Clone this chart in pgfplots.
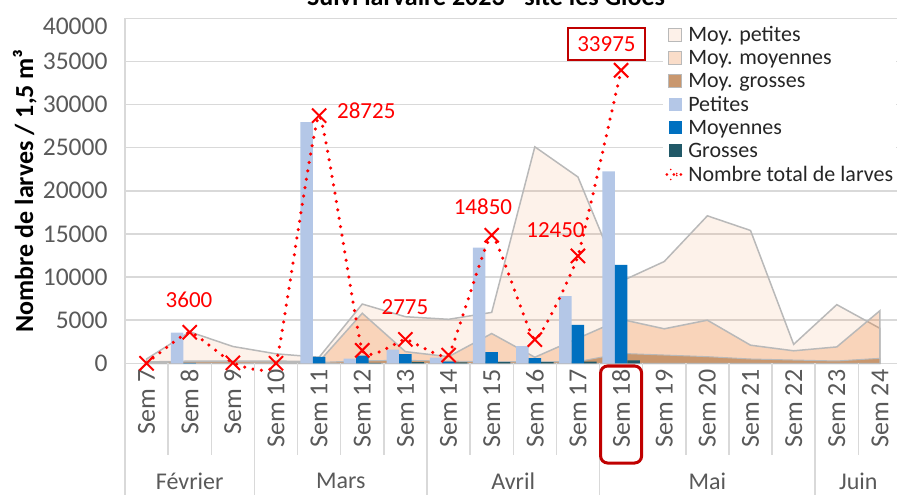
\documentclass[border=0pt]{standalone}
\usepackage{fontspec}
\setmainfont{Carlito}
\usepackage{pgfplots}
\pgfplotsset{compat=1.18}

\definecolor{petbar}{RGB}{180,199,231}
\definecolor{moybar}{RGB}{0,112,192}
\definecolor{grobar}{RGB}{33,89,104}
\definecolor{orangeA}{RGB}{237,125,49}
\definecolor{groarea}{RGB}{201,151,110}
\definecolor{areaedge}{RGB}{185,185,185}
\definecolor{gridgray}{RGB}{217,217,217}
\definecolor{ticktext}{RGB}{89,89,89}
\definecolor{boxred}{RGB}{192,0,0}

\newcommand{\xtf}{\fontsize{26bp}{30bp}\selectfont}
\newcommand{\ytf}{\fontsize{25.5bp}{30bp}\selectfont}
\newcommand{\mof}{\fontsize{24bp}{28bp}\selectfont}
\newcommand{\lgf}{\fontsize{22bp}{26bp}\selectfont}
\newcommand{\lbf}{\fontsize{23bp}{27bp}\selectfont}
\newcommand{\ylf}{\fontsize{26bp}{30bp}\selectfont\bfseries}
\newcommand{\ttf}{\fontsize{26bp}{30bp}\selectfont\bfseries}

\begin{document}
\begin{tikzpicture}
\begin{axis}[
  at={(125bp,131.7bp)}, anchor=south west,
  width=776.5bp, height=345bp, scale only axis,
  xmin=-0.5, xmax=17.5, ymin=0, ymax=40000,
  clip=false,
  axis x line*=bottom, axis y line*=left,
  axis line style={gridgray, line width=1.5bp},
  major tick length=0pt,
  xtick={0,...,17},
  xticklabels={Sem 7,Sem 8,Sem 9,Sem 10,Sem 11,Sem 12,Sem 13,Sem 14,Sem 15,Sem 16,Sem 17,Sem 18,Sem 19,Sem 20,Sem 21,Sem 22,Sem 23,Sem 24},
  xticklabel style={rotate=90, anchor=east, font=\xtf, text=ticktext},
  xticklabel shift=3bp,
  ytick={0,5000,...,35000},
  extra y ticks={40000},
  extra y tick style={grid=major, tick label style={yshift=-8bp}},
  yticklabel style={font=\ytf, text=ticktext, xshift=-14bp},
  ymajorgrids,
  grid style={gridgray, line width=1.5bp},
  scaled y ticks=false,
  /pgf/number format/1000 sep={},
  /pgf/number format/assume math mode=true,
  ylabel={Nombre de larves / 1,5 m³},
  ylabel style={at={(axis description cs:-0.129,0.5)}, anchor=center, font=\ylf, text=black},
  legend style={at={(axis description cs:0.693,0.986)}, anchor=north west,
    draw=none, fill=white, inner sep=2bp, font=\lgf, text=black!85,
    row sep=5.3bp, nodes={inner sep=1bp},
    /tikz/every even column/.append style={column sep=8bp}},
  legend cell align=left,
]

% moyennes (aires)
\addplot[fill=orangeA, fill opacity=0.1, draw=areaedge, draw opacity=1, line width=1.5bp,
  legend image code/.code={\filldraw[fill=orangeA, fill opacity=0.1, draw=areaedge, line width=1bp] (0bp,-6.5bp) rectangle (13bp,6.5bp);}]
  coordinates {(0,500)(1,3650)(2,1950)(3,1100)(4,700)(5,6870)(6,5400)(7,5100)(8,5900)
    (9,25100)(10,21600)(11,9500)(12,11800)(13,17100)(14,15400)(15,2200)(16,6800)(17,4050)} \closedcycle;
\addlegendentry{Moy. petites}
\addplot[fill=orangeA, fill opacity=0.26, draw=areaedge, draw opacity=1, line width=1.5bp,
  legend image code/.code={\filldraw[fill=orangeA, fill opacity=0.26, draw=areaedge, line width=1bp] (0bp,-6.5bp) rectangle (13bp,6.5bp);}]
  coordinates {(0,150)(1,250)(2,250)(3,250)(4,200)(5,5800)(6,1350)(7,770)(8,3450)
    (9,700)(10,2900)(11,5100)(12,4000)(13,5000)(14,2100)(15,1450)(16,1900)(17,6100)} \closedcycle;
\addlegendentry{Moy. moyennes}
\addplot[fill=groarea, draw=areaedge, line width=1bp,
  legend image code/.code={\filldraw[fill=groarea, draw=areaedge, line width=1bp] (0bp,-6.5bp) rectangle (13bp,6.5bp);}]
  coordinates {(0,100)(1,200)(2,200)(3,150)(4,100)(5,300)(6,350)(7,250)(8,200)
    (9,200)(10,200)(11,1150)(12,960)(13,770)(14,500)(15,380)(16,270)(17,580)} \closedcycle;
\addlegendentry{Moy. grosses}

% comptages (barres)
\addplot[ybar, bar width=0.29, bar shift=-0.29, fill=petbar, draw=none,
  legend image code/.code={\fill[petbar] (0bp,-6.5bp) rectangle (13bp,6.5bp);}]
  coordinates {(1,3550)(4,27975)(5,550)(6,1600)(7,650)(8,13400)(9,2000)(10,7800)(11,22250)};
\addlegendentry{Petites}
\addplot[ybar, bar width=0.29, bar shift=0, fill=moybar, draw=none,
  legend image code/.code={\fill[moybar] (0bp,-6.5bp) rectangle (13bp,6.5bp);}]
  coordinates {(1,50)(4,750)(5,900)(6,1050)(7,200)(8,1300)(9,600)(10,4450)(11,11400)};
\addlegendentry{Moyennes}
\addplot[ybar, bar width=0.29, bar shift=0.29, fill=grobar, draw=none,
  legend image code/.code={\fill[grobar] (0bp,-6.5bp) rectangle (13bp,6.5bp);}]
  coordinates {(5,50)(6,125)(7,100)(8,150)(9,150)(10,200)(11,325)};
\addlegendentry{Grosses}

% total
\addplot[red, line width=3.5bp, line cap=round, dash pattern=on 0bp off 8.5bp,
  smooth, tension=0.22, mark=x, mark size=10bp,
  mark options={solid, line width=2bp, line cap=butt},
  legend image code/.code={
    \draw[red, line width=3bp, line cap=round, dash pattern=on 0bp off 7bp] (-2bp,0) -- (17bp,0);
    \draw[red, line width=1.8bp] (2bp,-5bp) -- (12bp,5bp) (2bp,5bp) -- (12bp,-5bp);}]
  coordinates {(0,0)(1,3600)(2,50)(3,0)(4,28725)(5,1500)(6,2775)(7,950)(8,14850)
    (9,2750)(10,12450)(11,33975)};
\addlegendentry{Nombre total de larves}

% étiquettes
\node[font=\lbf, text=red] at (axis cs:0.984,7340) {3600};
\node[font=\lbf, text=red] at (axis cs:5.093,29275) {28725};
\node[font=\lbf, text=red] at (axis cs:5.99,6560) {2775};
\node[font=\lbf, text=red] at (axis cs:7.798,18180) {14850};
\node[font=\lbf, text=red] at (axis cs:9.479,15455) {12450};
\node[font=\lbf, text=red, draw=boxred, line width=1.5bp, fill=white,
  minimum width=77bp, minimum height=32bp, inner sep=0pt] at (axis cs:10.66,37020) {33975};

% séparateurs et mois
\pgfplotsinvokeforeach{1,2,4,5,6,8,9,10,12,13,14,15,17}{
  \draw[gridgray, line width=1.5bp] (axis cs:#1-0.5,0) -- ++(0pt,-92bp);}
\pgfplotsinvokeforeach{0,3,7,11,16}{
  \draw[gridgray, line width=1.5bp] (axis cs:#1-0.5,0) -- ++(0pt,-140bp);}
\node[font=\mof, text=ticktext] at ([yshift=-118bp]axis cs:1,0) {Février};
\node[font=\mof, text=ticktext] at ([yshift=-118bp]axis cs:4.5,0) {Mars};
\node[font=\mof, text=ticktext] at ([yshift=-118bp]axis cs:8.5,0) {Avril};
\node[font=\mof, text=ticktext] at ([yshift=-118bp]axis cs:13,0) {Mai};
\node[font=\mof, text=ticktext] at ([yshift=-118bp]axis cs:16.5,0) {Juin};
\draw[boxred, line width=3bp, rounded corners=7bp]
  ([xshift=-20.5bp,yshift=-2.7bp]axis cs:11,0) rectangle ([xshift=20.5bp,yshift=-99.7bp]axis cs:11,0);
\end{axis}
\node[font=\ttf, anchor=base] at (486bp,489bp) {Suivi larvaire 2023 - site les Gloes};
\pgfresetboundingbox
\path[use as bounding box] (0,0) rectangle (897bp,495bp);
\end{tikzpicture}
\end{document}
